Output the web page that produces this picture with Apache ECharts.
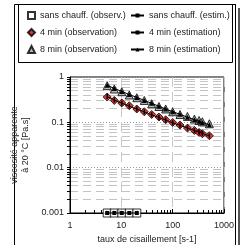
<!DOCTYPE html>
<html>
<head>
<meta charset="utf-8">
<script src="https://cdn.jsdelivr.net/npm/echarts@6/dist/echarts.min.js"></script>
<style>
  html, body { margin: 0; padding: 0; background: #fff; }
  #chart { width: 244px; height: 245px; }
</style>
</head>
<body>
<div id="chart"></div>
<script>
// taux de cisaillement (s-1)
const shearRate = [5.3, 7.3, 10.2, 14.3, 20, 28, 39, 54, 73, 100, 139, 194, 265, 327, 379, 519];
const shearRateNoHeat = [5.3, 7.3, 10.2, 14.3, 20];

// viscosité apparente (Pa.s)
const viscNoHeatObs = [0.001, 0.001, 0.001, 0.001, 0.001];
const viscNoHeatEst = [0.001, 0.001, 0.001, 0.001, 0.001];
const visc4Obs = [0.362, 0.304, 0.267, 0.232, 0.197, 0.171, 0.149, 0.131, 0.114, 0.0995, 0.087, 0.0748, 0.0662, 0.0598, 0.056, 0.0506];
const visc4Est = [0.37, 0.31, 0.265, 0.228, 0.196, 0.170, 0.147, 0.128, 0.112, 0.098, 0.086, 0.075, 0.066, 0.061, 0.057, 0.050];
const visc8Obs = [0.643, 0.543, 0.474, 0.401, 0.349, 0.304, 0.257, 0.224, 0.197, 0.171, 0.149, 0.135, 0.118, 0.110, 0.103, 0.093];
const visc8Est = [0.66, 0.56, 0.48, 0.41, 0.355, 0.305, 0.262, 0.226, 0.197, 0.172, 0.150, 0.130, 0.114, 0.105, 0.099, 0.088];

const xTickLabels = ['1', '10', '100', '1000'];
const yTickLabels = ['0.001', '0.01', '0.1', '1'];

const obsNames = ['sans chauff. (observ.)', '4 min (observation)', '8 min (observation)'];
const estNames = ['sans chauff. (estim.)', '4 min (estimation)', '8 min (estimation)'];

const font = 'Arial, "Liberation Sans", sans-serif';

function pairs(xs, ys) {
  return xs.map((x, i) => [x, ys[i]]);
}

const chart = echarts.init(document.getElementById('chart'));

const option = {
  animation: false,
  textStyle: { fontFamily: font, fontSize: 9, color: '#222' },
  grid: {
    left: 70, right: 20, top: 77, bottom: 32,
    outerBoundsMode: 'none',
    containLabel: false,
    show: true, borderColor: '#000', borderWidth: 1
  },
  legend: [
    {
      data: obsNames,
      orient: 'vertical',
      left: 22, top: 6,
      itemWidth: 7, itemHeight: 7, itemGap: 8,
      textStyle: { fontFamily: font, fontSize: 9, color: '#222' }
    },
    {
      data: estNames,
      orient: 'vertical',
      left: 125, top: 6,
      itemWidth: 13, itemHeight: 5, itemGap: 8,
      textStyle: { fontFamily: font, fontSize: 9, color: '#222' }
    }
  ],
  graphic: [
    // cadre extérieur
    { type: 'line', shape: { x1: 14.5, y1: 4.5, x2: 14.5, y2: 250 }, style: { stroke: '#000', lineWidth: 1 } },
    { type: 'line', shape: { x1: 14.5, y1: 4.5, x2: 236, y2: 4.5 }, style: { stroke: '#000', lineWidth: 1 } },
    { type: 'line', shape: { x1: 235.5, y1: 4.5, x2: 235.5, y2: 250 }, style: { stroke: '#000', lineWidth: 1 } },
    { type: 'line', shape: { x1: 239, y1: 8, x2: 239, y2: 250 }, style: { stroke: '#555', lineWidth: 2 } },
    // cadre de la légende
    { type: 'rect', shape: { x: 18.5, y: 4.5, width: 214, height: 58 }, style: { fill: null, stroke: '#000', lineWidth: 1 } }
  ],
  xAxis: {
    type: 'log',
    logBase: 10,
    min: 1,
    max: 1000,
    name: 'taux de cisaillement [s-1]',
    nameLocation: 'middle',
    nameGap: 22,
    nameTextStyle: { fontFamily: font, fontSize: 9, color: '#222' },
    axisLine: { lineStyle: { color: '#000', width: 1 } },
    axisTick: { show: true, inside: true, length: 4, lineStyle: { color: '#000' } },
    minorTick: { show: true, splitNumber: 9, length: 3, lineStyle: { color: '#000' } },
    axisLabel: {
      margin: 8, color: '#222', fontSize: 9, fontFamily: font,
      formatter: (v, i) => xTickLabels[i]
    },
    splitLine: { show: true, lineStyle: { color: '#c8c8c8', type: [10, 5], width: 1 } },
    minorSplitLine: { show: false }
  },
  yAxis: {
    type: 'log',
    logBase: 10,
    min: 0.001,
    max: 1,
    name: 'viscosité apparente\nà 20 °C [Pa.s]',
    nameLocation: 'middle',
    nameRotate: 90,
    nameGap: 31,
    nameTextStyle: { fontFamily: font, fontSize: 9, color: '#222', lineHeight: 11 },
    axisLine: { lineStyle: { color: '#000', width: 1 } },
    axisTick: { show: true, inside: false, length: 3, lineStyle: { color: '#000' } },
    minorTick: { show: true, splitNumber: 9, length: 3, lineStyle: { color: '#000' } },
    axisLabel: {
      margin: 6, color: '#222', fontSize: 9, fontFamily: font,
      formatter: (v, i) => yTickLabels[i]
    },
    splitLine: { show: true, lineStyle: { color: '#999', type: [1, 2], width: 1 } },
    minorSplitLine: { show: true, lineStyle: { color: '#c4c4c4', type: [8, 5], width: 1 } }
  },
  series: [
    {
      name: obsNames[0], type: 'scatter', data: pairs(shearRateNoHeat, viscNoHeatObs),
      symbol: 'rect', symbolSize: 8,
      itemStyle: { color: '#fff', borderColor: '#000', borderWidth: 1 }
    },
    {
      name: obsNames[1], type: 'scatter', data: pairs(shearRate, visc4Obs),
      symbol: 'diamond', symbolSize: 8,
      itemStyle: { color: '#e00000', borderColor: '#000', borderWidth: 1 }
    },
    {
      name: obsNames[2], type: 'scatter', data: pairs(shearRate, visc8Obs),
      symbol: 'triangle', symbolSize: 8,
      itemStyle: { color: '#a8a8a8', borderColor: '#000', borderWidth: 1 }
    },
    {
      name: estNames[0], type: 'line', data: pairs(shearRateNoHeat, viscNoHeatEst),
      symbol: 'rect', symbolSize: 4, showAllSymbol: true, clip: false,
      lineStyle: { color: '#000', width: 1 },
      itemStyle: { color: '#000' }
    },
    {
      name: estNames[1], type: 'line', data: pairs(shearRate, visc4Est),
      symbol: 'rect', symbolSize: [1.5, 5], showAllSymbol: true,
      lineStyle: { color: '#000', width: 1 },
      itemStyle: { color: '#000' }
    },
    {
      name: estNames[2], type: 'line', data: pairs(shearRate, visc8Est),
      symbol: 'triangle', symbolSize: 5, showAllSymbol: true,
      lineStyle: { color: '#000', width: 1 },
      itemStyle: { color: '#000' }
    }
  ]
};

chart.setOption(option);
</script>
</body>
</html>
